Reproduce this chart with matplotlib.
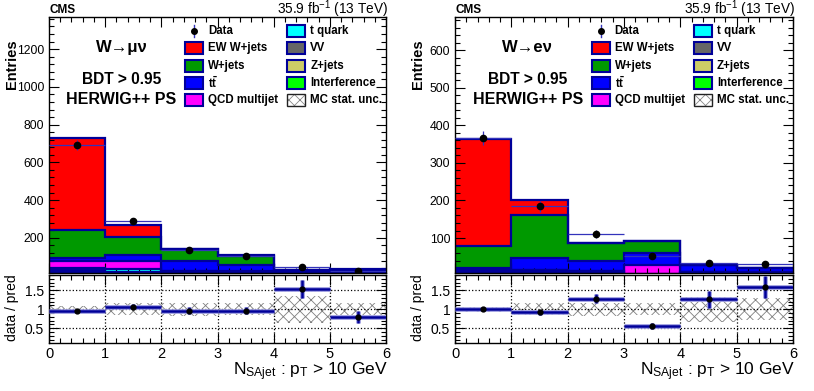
import matplotlib
matplotlib.use("Agg")
import matplotlib.pyplot as plt
from matplotlib.patches import Rectangle
from matplotlib.ticker import MultipleLocator, FormatStrFormatter
import numpy as np

plt.rcParams["font.family"] = ["Liberation Sans", "DejaVu Sans"]
plt.rcParams["mathtext.fontset"] = "custom"
plt.rcParams["mathtext.rm"] = "Liberation Sans"
plt.rcParams["mathtext.it"] = "Liberation Sans:italic"
plt.rcParams["mathtext.bf"] = "Liberation Sans:bold"
plt.rcParams["hatch.linewidth"] = 0.6

# ---------------------------------------------------------------------------
# Data
# ---------------------------------------------------------------------------
edges = np.arange(7)

# stack order, bottom -> top
processes = ["Interference", "Z+jets", "VV", "t quark",
             "QCD multijet", "ttbar", "W+jets", "EW W+jets"]

# W -> mu nu
mu_interf = [4, 3, 1, 1, 1, 1]
mu_zjets = [16, 11, 6, 6, 6, 7]
mu_vv = [9, 7, 5, 5, 6, 6]
mu_tquark = [12, 14, 10, 9, 8, 8]
mu_qcd = [39, 45, 4, 2, 0, 1]
mu_ttbar = [14, 28, 50, 35, 6, 7]
mu_wjets = [150, 95, 64, 48, 2, 2]
mu_ew = [486, 67, 3, 2, 1, 1]
mu_data = [693, 288, 138, 104, 46, 26]
mu_mcunc = [0.085, 0.15, 0.17, 0.15, 0.36, 0.16]

# W -> e nu
e_interf = [1, 1, 1, 1, 1, 1]
e_zjets = [4, 6, 3, 1, 2, 2]
e_vv = [3, 4, 3, 1, 3, 3]
e_tquark = [4, 5, 4, 1, 4, 3]
e_qcd = [2, 0, 0, 25, 0, 0]
e_ttbar = [6, 31, 27, 31, 17, 10]
e_wjets = [60, 115, 49, 33, 0, 0]
e_ew = [283, 38, 0, 0, 0, 0]
e_data = [366, 184, 111, 51, 34, 30]
e_mcunc = [0.07, 0.15, 0.17, 0.16, 0.33, 0.29]

colors = {
    "EW W+jets": "#ff0000",
    "W+jets": "#009900",
    "ttbar": "#0000ff",
    "QCD multijet": "#ff00ff",
    "t quark": "#00ffff",
    "VV": "#666666",
    "Z+jets": "#cccc66",
    "Interference": "#00ff00",
}
NAVY = "#000099"


def style_axis(ax):
    ax.tick_params(which="both", direction="in", top=True, right=True,
                   width=0.8, labelsize=9)
    ax.tick_params(which="major", length=7)
    ax.tick_params(which="minor", length=3.5)
    for s in ax.spines.values():
        s.set_linewidth(1.0)


def draw_legend(ax):
    w, h = 0.054, 0.047
    rows = [0.945, 0.879, 0.809, 0.742, 0.676]
    col1 = [("Data", None), ("EW W+jets", "EW W+jets"), ("W+jets", "W+jets"),
            (r"$\mathbf{t\bar{t}}$", "ttbar"), ("QCD multijet", "QCD multijet")]
    col2 = [("t quark", "t quark"), ("VV", "VV"), ("Z+jets", "Z+jets"),
            ("Interference", "Interference"), ("MC stat. unc.", "unc")]
    for (x0, xt, entries) in [(0.404, 0.472, col1), (0.706, 0.775, col2)]:
        for y, (label, key) in zip(rows, entries):
            if key is None:
                xc = x0 + w / 2
                ax.plot([xc, xc], [y - 0.022, y + 0.022], color="#3333bb",
                        lw=1.0, transform=ax.transAxes, clip_on=False)
                ax.plot([xc], [y], "o", color="k", ms=4,
                        transform=ax.transAxes, clip_on=False)
            elif key == "unc":
                ax.add_patch(Rectangle((x0, y - h / 2), w, h, transform=ax.transAxes,
                                       facecolor="white", edgecolor="#888888",
                                       hatch="xxx", lw=0, clip_on=False))
                ax.add_patch(Rectangle((x0, y - h / 2), w, h, transform=ax.transAxes,
                                       fill=False, edgecolor="#222222", lw=1.0,
                                       clip_on=False))
            else:
                ax.add_patch(Rectangle((x0, y - h / 2), w, h, transform=ax.transAxes,
                                       facecolor=colors[key], edgecolor=NAVY,
                                       lw=1.5, clip_on=False))
            ax.text(xt, y, label, transform=ax.transAxes, fontsize=8.3,
                    fontweight="bold", va="center", ha="left")


def draw_panel(ax, rax, comps, data, mcunc, ylim, ymajor, yminor, channel):
    centers = edges[:-1] + 0.5
    data = np.asarray(data, dtype=float)

    bottom = np.zeros(len(centers))
    for name, vals in zip(processes, comps):
        top = bottom + np.asarray(vals, dtype=float)
        ax.stairs(top, edges, baseline=bottom, fill=True,
                  facecolor=colors[name], lw=0, zorder=1)
        ax.stairs(top, edges, baseline=None, color=NAVY, lw=1.6, zorder=2)
        bottom = top
    pred = bottom

    ax.errorbar(centers, data, xerr=0.5, yerr=np.sqrt(data), fmt="o",
                color="k", ms=4.5, ecolor="#3333bb", elinewidth=0.9,
                capsize=0, zorder=5)

    ax.set_xlim(0, 6)
    ax.set_ylim(*ylim)
    ax.xaxis.set_major_locator(MultipleLocator(1))
    ax.xaxis.set_minor_locator(MultipleLocator(0.2))
    ax.yaxis.set_major_locator(MultipleLocator(ymajor))
    ax.yaxis.set_minor_locator(MultipleLocator(yminor))
    ax.tick_params(labelbottom=False)
    style_axis(ax)
    ax.tick_params(axis="y", labelsize=8.8)

    ax.text(0.215, 0.879, channel, transform=ax.transAxes, fontsize=12,
            fontweight="bold", ha="center", va="center")
    ax.text(0.215, 0.754, "BDT > 0.95", transform=ax.transAxes, fontsize=11.2,
            fontweight="bold", ha="center", va="center")
    ax.text(0.215, 0.676, "HERWIG++ PS", transform=ax.transAxes, fontsize=11.5,
            fontweight="bold", ha="center", va="center")
    draw_legend(ax)

    # ratio panel
    ratio = data / pred
    rerr = np.sqrt(data) / pred
    unc = np.asarray(mcunc)
    rax.bar(centers, 2 * unc, bottom=1 - unc, width=1.0, facecolor="none",
            edgecolor="#7f7f7f", hatch="xxx", lw=0, zorder=1)
    rax.errorbar(centers, ratio, xerr=0.5, yerr=rerr, fmt="none",
                 ecolor="#9a9ae0", elinewidth=3.4, capsize=0, zorder=3)
    rax.errorbar(centers, ratio, xerr=0.5, yerr=rerr, fmt="none",
                 ecolor=NAVY, elinewidth=1.8, capsize=0, zorder=4)
    rax.plot(centers, ratio, "o", color="k", ms=3.5, zorder=5)

    rax.set_xlim(0, 6)
    rax.set_ylim(0.11, 1.9)
    rax.xaxis.set_major_locator(MultipleLocator(1))
    rax.xaxis.set_minor_locator(MultipleLocator(0.2))
    rax.yaxis.set_major_locator(MultipleLocator(0.5))
    rax.yaxis.set_minor_locator(MultipleLocator(0.1))
    rax.yaxis.set_major_formatter(FormatStrFormatter("%g"))
    rax.grid(which="major", linestyle=":", color="k", lw=0.9)
    rax.set_axisbelow(False)
    style_axis(rax)
    rax.tick_params(axis="x", labelsize=10.5, pad=3)
    rax.tick_params(axis="y", labelsize=10)


fig = plt.figure(figsize=(8.14, 3.91), dpi=100)
W, H = 814.0, 391.0

panels = [
    (49, 337, [mu_interf, mu_zjets, mu_vv, mu_tquark, mu_qcd, mu_ttbar, mu_wjets, mu_ew],
     mu_data, mu_mcunc, (14, 1370), 200, 40, "W\u2192\u03bc\u03bd"),
    (455, 338, [e_interf, e_zjets, e_vv, e_tquark, e_qcd, e_ttbar, e_wjets, e_ew],
     e_data, e_mcunc, (7, 688), 100, 20, "W\u2192e\u03bd"),
]

for x0, wpx, comps, data, unc, ylim, ymaj, ymin_, channel in panels:
    ax = fig.add_axes([x0 / W, 1 - 273 / H, wpx / W, 256 / H])
    rax = fig.add_axes([x0 / W, 1 - 343 / H, wpx / W, 68 / H], sharex=ax)
    draw_panel(ax, rax, comps, data, unc, ylim, ymaj, ymin_, channel)

    # header texts
    fig.text((x0 + 1) / W, 1 - 13 / H, "CMS", fontsize=8.5,
             fontweight="bold", ha="left", va="baseline")
    fig.text((x0 + wpx + 2) / W, 1 - 14 / H, r"35.9 fb$^{-1}$ (13 TeV)",
             fontsize=9.8, ha="right", va="baseline")

    xl = x0 - 37
    fig.text(xl / W, 1 - 64 / H, "Entries", rotation=90, fontsize=10.5,
             fontweight="bold", ha="center", va="center")
    fig.text(xl / W, 1 - 308 / H, "data / pred", rotation=90, fontsize=10,
             ha="center", va="center")
    fig.text((x0 + wpx + 2) / W, 1 - 375 / H,
             r"N$_{\rm SAjet}$ : p$_{\rm T}$ > 10 GeV", fontsize=12.5,
             ha="right", va="baseline")

fig.savefig("out.png", dpi=100, facecolor="white")
